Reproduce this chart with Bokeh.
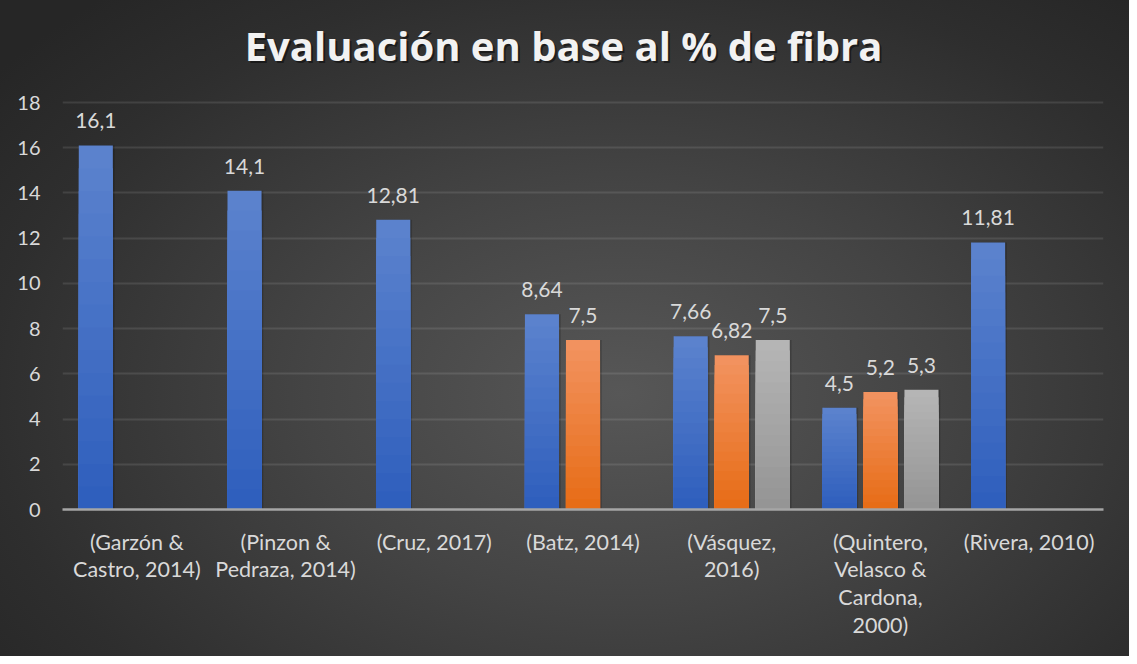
from bokeh.plotting import figure
from bokeh.models import (ColumnDataSource, FactorRange, FixedTicker, LabelSet, Label)
from bokeh.core.properties import value
from bokeh.transform import dodge
from bokeh.embed import file_html
from bokeh.resources import INLINE

# ---------------- data ----------------
categories = ["(Garzón &\nCastro, 2014)", "(Pinzon &\nPedraza, 2014)", "(Cruz, 2017)",
              "(Batz, 2014)", "(Vásquez,\n2016)", "(Quintero,\nVelasco &\nCardona,\n2000)",
              "(Rivera, 2010)"]
serie1 = [16.1, 14.1, 12.81, 8.64, 7.66, 4.5, 11.81]
serie2 = [None, None, None, 7.5, 6.82, 5.2, None]
serie3 = [None, None, None, None, 7.5, 5.3, None]
y_ticks = [0, 2, 4, 6, 8, 10, 12, 14, 16, 18]
title_text = "Evaluación en base al % de fibra"

FONT = "Lato"
LABEL_COLOR = "#d9d9d9"

series = [
    (serie1, -0.276, "#5b82cd", "#2f5fbd"),
    (serie2, 0.0, "#f2925f", "#e76d17"),
    (serie3, 0.276, "#b5b5b5", "#959595"),
]

# frame extends to the top of the figure so the title can live inside it;
# the value axis only shows 0..18
Y_TOP = 18 + 102 / 22.61
p = figure(x_range=FactorRange(*categories), y_range=(0, Y_TOP),
           width=1129, height=656, output_backend="svg", toolbar_location=None,
           min_border_left=62, min_border_right=26, min_border_top=0,
           min_border_bottom=147)
p.background_fill_color = None
p.border_fill_color = None
p.outline_line_color = None
p.styles = {"background": "radial-gradient(ellipse 70% 80% at 55% 60%, #575757 0%, #444444 40%, #2e2e2e 80%, #262626 100%)"}

# title
TX, TY = 3.369, Y_TOP - 45 / 22.61
p.add_layout(Label(x=TX, y=TY, text=title_text, x_offset=2, y_offset=-2,
                   text_align="center", text_baseline="middle",
                   text_font="Open Sans", text_font_style="bold", text_font_size="40px",
                   text_color="#000000", text_alpha=0.45))
p.add_layout(Label(x=TX, y=TY, text=title_text,
                   text_align="center", text_baseline="middle",
                   text_font="Open Sans", text_font_style="bold", text_font_size="40px",
                   text_color="#f2f2f2"))


def hex2rgb(h):
    return tuple(int(h[i:i + 2], 16) for i in (1, 3, 5))


def lerp(c1, c2, t):
    a, b = hex2rgb(c1), hex2rgb(c2)
    return "#%02x%02x%02x" % tuple(round(a[i] + (b[i] - a[i]) * t) for i in range(3))


N = 16
BAR_W = 0.229
for vals, off, ctop, cbot in series:
    cats = [c for c, v in zip(categories, vals) if v is not None]
    vv = [v for v in vals if v is not None]
    # soft shadow
    sh = ColumnDataSource(dict(cat=cats, top=vv))
    p.vbar(x=dodge("cat", off + 0.012, range=p.x_range), top="top", width=BAR_W, source=sh,
           fill_color="#000000", fill_alpha=0.18, line_color=None)
    for k in range(N):
        frac = (N - k) / N
        src = ColumnDataSource(dict(cat=cats, top=[v * frac for v in vv]))
        p.vbar(x=dodge("cat", off, range=p.x_range), top="top", width=BAR_W, source=src,
               fill_color=lerp(ctop, cbot, k / (N - 1)), line_color=None)
    lab = ColumnDataSource(dict(cat=cats, top=vv, txt=[str(v).replace(".", ",") for v in vv]))
    p.add_layout(LabelSet(x=dodge("cat", off, range=p.x_range), y="top", text="txt", source=lab,
                          text_align="center", text_baseline="alphabetic", y_offset=17,
                          text_font=value(FONT), text_font_size="21px", text_color=LABEL_COLOR))

# grid
p.xgrid.grid_line_color = None
p.ygrid.grid_line_color = "#ffffff"
p.ygrid.grid_line_alpha = 0.1
p.ygrid.grid_line_width = 2
p.yaxis.ticker = FixedTicker(ticks=y_ticks)

# axes
p.yaxis.axis_line_color = None
p.yaxis.major_tick_line_color = None
p.yaxis.minor_tick_line_color = None
p.yaxis.major_label_text_font = FONT
p.yaxis.major_label_text_font_size = "20px"
p.yaxis.major_label_text_color = LABEL_COLOR
p.yaxis.major_label_standoff = 16

p.xaxis.axis_line_color = "#a6a6a6"
p.xaxis.axis_line_width = 2.5
p.xaxis.major_tick_line_color = None
p.xaxis.minor_tick_line_color = None
p.xaxis.major_label_text_font = FONT
p.xaxis.major_label_text_font_size = "21.5px"
p.xaxis.major_label_text_color = LABEL_COLOR
p.xaxis.major_label_standoff = 13
p.xaxis.major_label_text_line_height = 1.07

open("out.html", "w").write(file_html(p, INLINE))
